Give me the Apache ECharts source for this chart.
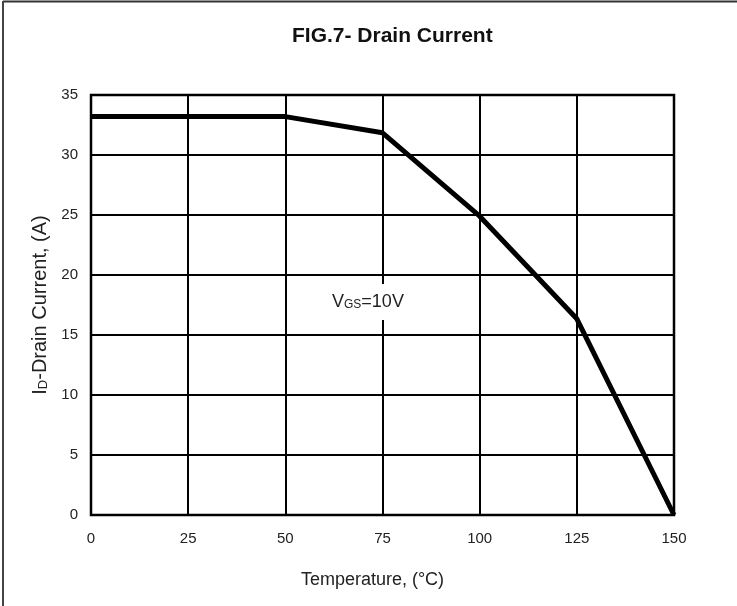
<!DOCTYPE html>
<html>
<head>
<meta charset="utf-8">
<title>FIG.7- Drain Current</title>
<script src="https://cdn.jsdelivr.net/npm/echarts@6/dist/echarts.min.js"></script>
<style>
  html, body { margin: 0; padding: 0; background: #fff; }
  #chart { width: 737px; height: 606px; }
</style>
</head>
<body>
<div id="chart"></div>
<script>
// Temperature breakpoints (°C) and the drain current limit at each (A)
const temperatures = [0, 25, 50, 75, 100, 125, 150];
const drainCurrent = [33.2, 33.2, 33.2, 31.85, 24.9, 16.35, 0];
const xTicks = [0, 25, 50, 75, 100, 125, 150];
const yTicks = [0, 5, 10, 15, 20, 25, 30, 35];

const FONT = '"Liberation Sans", Arial, Helvetica, sans-serif';

const chart = echarts.init(document.getElementById('chart'));
chart.setOption({
  backgroundColor: '#fff',
  animation: false,
  title: {
    text: 'FIG.7- Drain Current',
    left: 287,
    top: 21,
    textStyle: { fontFamily: FONT, fontSize: 21, fontWeight: 'bold', color: '#111' }
  },
  grid: { left: 91, right: 63, top: 95, bottom: 91 },
  xAxis: {
    type: 'value',
    min: xTicks[0],
    max: xTicks[xTicks.length - 1],
    interval: 25,
    name: 'Temperature, (°C)',
    nameLocation: 'middle',
    nameGap: 56,
    nameTextStyle: { fontFamily: FONT, fontSize: 18, color: '#222', padding: [0, 20, 0, 0] },
    axisLine: { show: false },
    axisTick: { show: false },
    axisLabel: { fontFamily: FONT, fontSize: 15, color: '#222', margin: 16 },
    splitLine: { show: true, lineStyle: { color: '#000', width: 2 } }
  },
  yAxis: {
    type: 'value',
    min: yTicks[0],
    max: yTicks[yTicks.length - 1],
    interval: 5,
    name: '{n|I}{s|D}{n|-Drain Current, (A)}',
    nameLocation: 'middle',
    nameGap: 41,
    nameRotate: 90,
    nameTextStyle: {
      rich: {
        n: { fontFamily: FONT, fontSize: 20, color: '#222' },
        s: { fontFamily: FONT, fontSize: 13, color: '#222', verticalAlign: 'bottom', padding: [7, 0, 0, 0] }
      }
    },
    axisLine: { show: false },
    axisTick: { show: false },
    axisLabel: { fontFamily: FONT, fontSize: 15, color: '#222', margin: 13 },
    splitLine: { show: true, lineStyle: { color: '#000', width: 2 } }
  },
  series: [
    {
      type: 'line',
      data: temperatures.map((t, i) => [t, drainCurrent[i]]),
      symbol: 'none',
      lineStyle: { color: '#000', width: 5 },
      z: 5
    }
  ],
  graphic: [
    // frame around the plot area
    {
      type: 'rect',
      shape: { x: 91, y: 95, width: 583, height: 420 },
      style: { fill: 'none', stroke: '#000', lineWidth: 2.5 },
      z: 3
    },
    // condition label
    {
      type: 'text',
      left: 326,
      top: 284,
      z: 10,
      style: {
        text: '{n|V}{s|GS}{n|=10V}',
        backgroundColor: '#fff',
        padding: [9, 6, 9, 6],
        rich: {
          n: { fontFamily: FONT, fontSize: 18, fill: '#222' },
          s: { fontFamily: FONT, fontSize: 12, fill: '#222', verticalAlign: 'bottom', padding: [6, 0, 0, 0] }
        }
      }
    },
    // page edges
    { type: 'line', shape: { x1: 3, y1: 1.5, x2: 737, y2: 1.5 }, style: { stroke: '#333', lineWidth: 2 } },
    { type: 'line', shape: { x1: 3, y1: 1, x2: 3, y2: 606 }, style: { stroke: '#444', lineWidth: 2 } }
  ]
});
</script>
</body>
</html>
